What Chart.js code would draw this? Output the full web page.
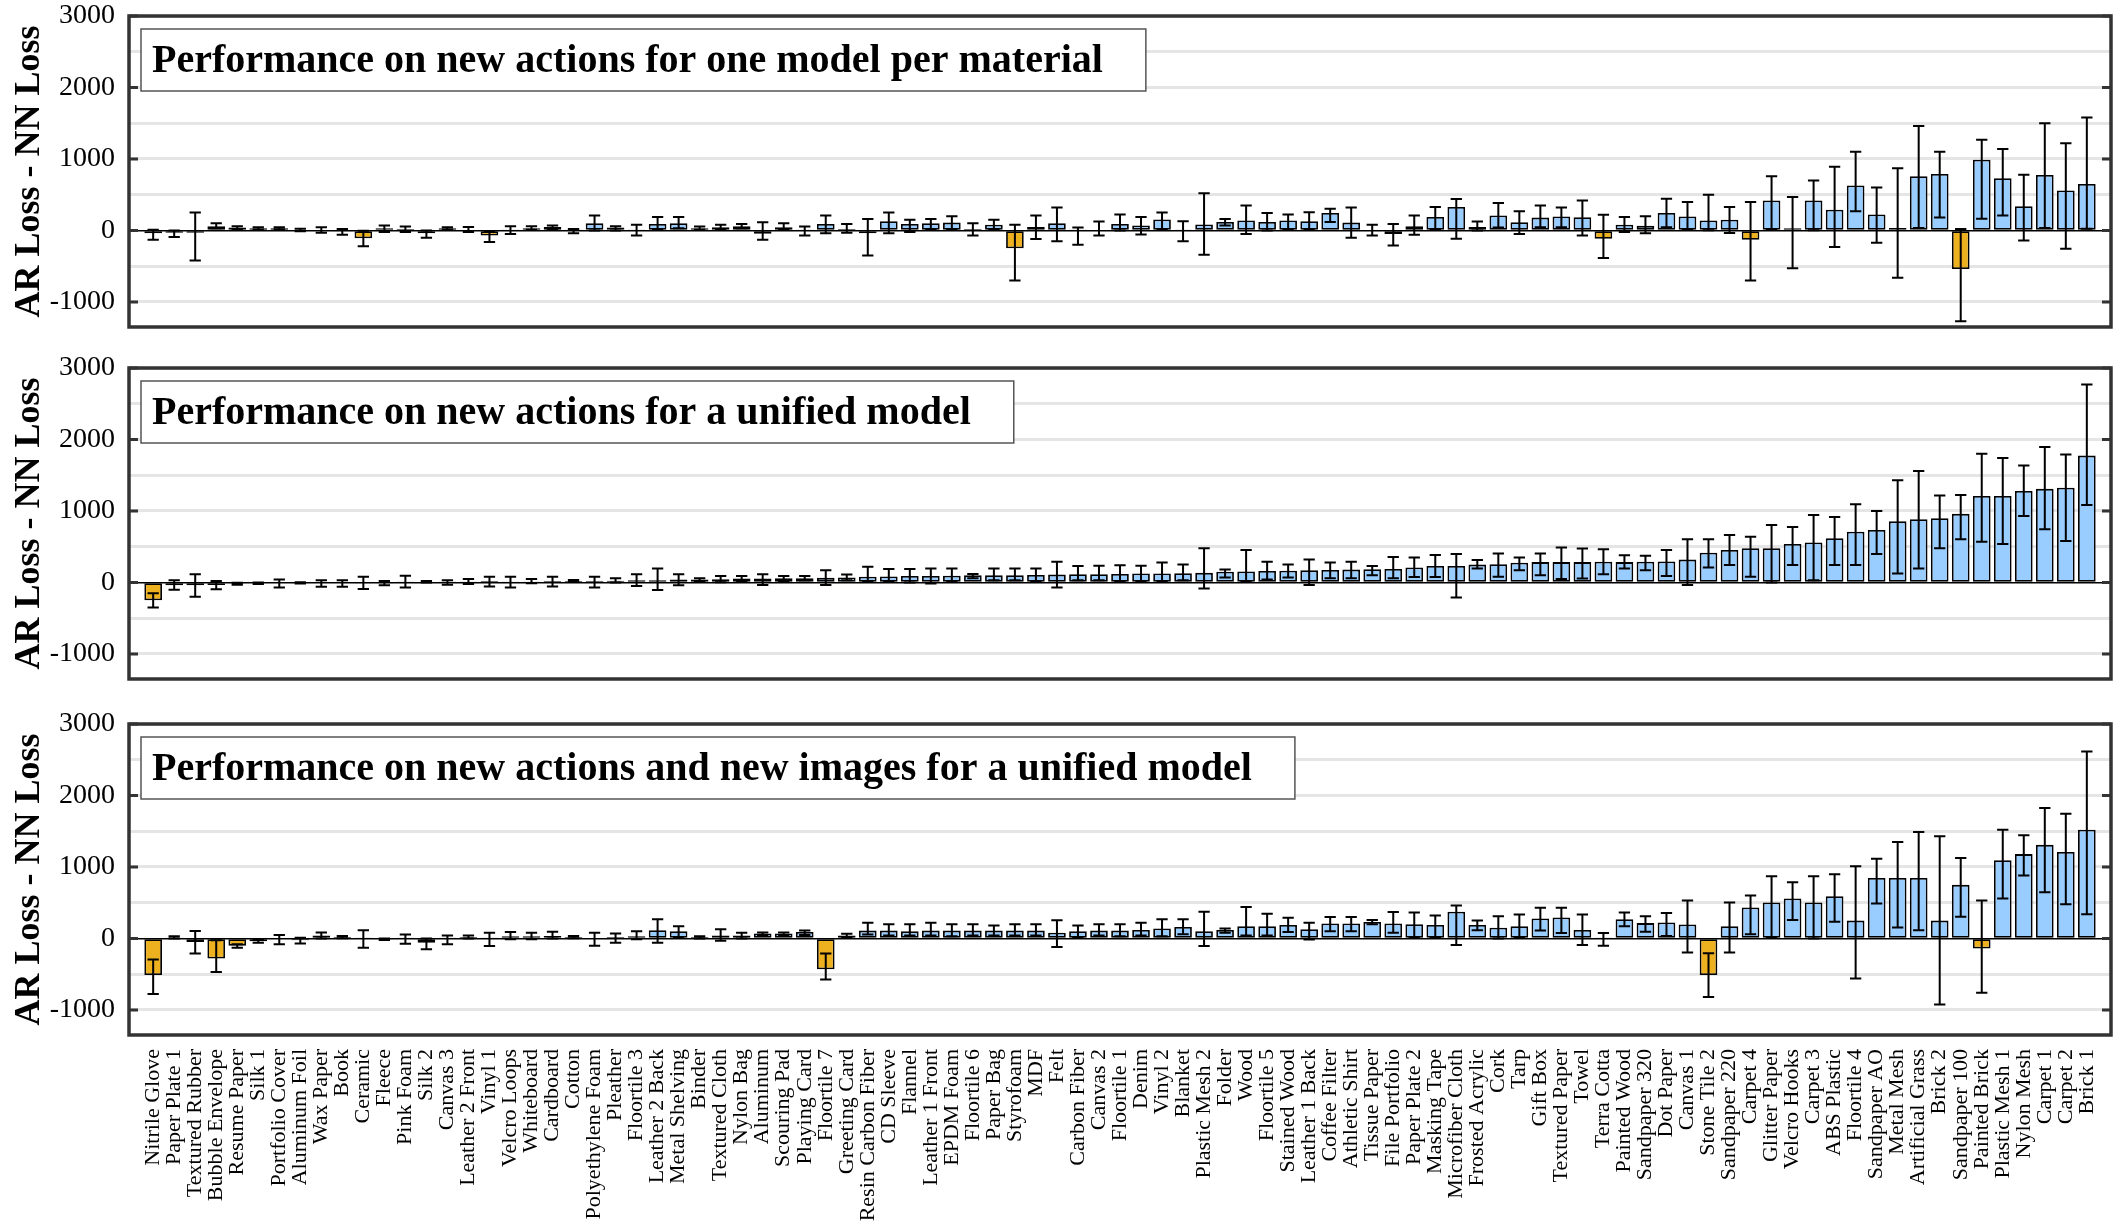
<!DOCTYPE html>
<html>
<head>
<meta charset="utf-8">
<script src="https://cdn.jsdelivr.net/npm/chart.js@4.4.0/dist/chart.umd.min.js"></script>
<style>
  body { margin: 0; background: #fff; }
  #wrap { position: relative; width: 2124px; height: 1230px; }
  .panel { position: absolute; left: 0; width: 2124px; }
</style>
</head>
<body>
<div id="wrap">
  <div class="panel" style="top:0px;height:330px"><canvas id="c1"></canvas></div>
  <div class="panel" style="top:340px;height:342px"><canvas id="c2"></canvas></div>
  <div class="panel" style="top:690px;height:540px"><canvas id="c3"></canvas></div>
</div>
<script>
var materials = ['Nitrile Glove', 'Paper Plate 1', 'Textured Rubber', 'Bubble Envelope', 'Resume Paper', 'Silk 1',
  'Portfolio Cover', 'Aluminum Foil', 'Wax Paper', 'Book', 'Ceramic', 'Fleece', 'Pink Foam', 'Silk 2', 'Canvas 3',
  'Leather 2 Front', 'Vinyl 1', 'Velcro Loops', 'Whiteboard', 'Cardboard', 'Cotton', 'Polyethylene Foam', 'Pleather',
  'Floortile 3', 'Leather 2 Back', 'Metal Shelving', 'Binder', 'Textured Cloth', 'Nylon Bag', 'Aluminum',
  'Scouring Pad', 'Playing Card', 'Floortile 7', 'Greeting Card', 'Resin Carbon Fiber', 'CD Sleeve', 'Flannel',
  'Leather 1 Front', 'EPDM Foam', 'Floortile 6', 'Paper Bag', 'Styrofoam', 'MDF', 'Felt', 'Carbon Fiber', 'Canvas 2',
  'Floortile 1', 'Denim', 'Vinyl 2', 'Blanket', 'Plastic Mesh 2', 'Folder', 'Wood', 'Floortile 5', 'Stained Wood',
  'Leather 1 Back', 'Coffee Filter', 'Athletic Shirt', 'Tissue Paper', 'File Portfolio', 'Paper Plate 2',
  'Masking Tape', 'Microfiber Cloth', 'Frosted Acrylic', 'Cork', 'Tarp', 'Gift Box', 'Textured Paper', 'Towel',
  'Terra Cotta', 'Painted Wood', 'Sandpaper 320', 'Dot Paper', 'Canvas 1', 'Stone Tile 2', 'Sandpaper 220',
  'Carpet 4', 'Glitter Paper', 'Velcro Hooks', 'Carpet 3', 'ABS Plastic', 'Floortile 4', 'Sandpaper AO',
  'Metal Mesh', 'Artificial Grass', 'Brick 2', 'Sandpaper 100', 'Painted Brick', 'Plastic Mesh 1', 'Nylon Mesh',
  'Carpet 1', 'Carpet 2', 'Brick 1'];

var yTicks = [-1000, 0, 1000, 2000, 3000];
var yGrid = [-1000, -500, 0, 500, 1000, 1500, 2000, 2500, 3000];

// panel 1: one model per material
var p1Mean = [-40, -30, -30, 60, 40, 30, 30, 10, 10, -15,
  -110, 30, 20, -40, 30, 10, -70, 5, 30, 50,
  5, 100, 40, 5, 90, 100, 30, 45, 60, -45,
  45, 5, 90, 20, -40, 130, 90, 100, 110, 20,
  80, -250, 50, 100, 5, 10, 90, 70, 155, 5,
  85, 120, 140, 120, 140, 130, 245, 110, 10, -50,
  60, 190, 330, 50, 210, 115, 180, 195, 185, -115,
  80, 65, 245, 195, 140, 150, -130, 420, 30, 420,
  290, 630, 225, 35, 760, 790, -540, 990, 730, 340,
  775, 560, 650];
var p1Low = [-130, -90, -420, 30, 20, 10, 15, -10, -30, -60,
  -220, -20, -20, -100, 10, -20, -160, -50, 10, 20,
  -40, 0, 0, -70, 20, 30, 10, 10, 30, -130,
  10, -70, -40, -30, -350, -40, -20, 10, 20, -70,
  10, -700, -120, -150, -200, -70, 0, -55, 10, -150,
  -340, 70, -50, 0, 10, 10, 120, -100, -70, -210,
  -60, 20, -115, 0, 40, -50, 45, 45, -70, -385,
  -20, -40, 45, 10, 5, -35, -700, 10, -530, 5,
  -230, 270, -170, -660, 35, 180, -1270, 165, 210, -140,
  35, -255, 25];
var p1High = [10, 0, 250, 100, 60, 45, 45, 25, 45, 20,
  -5, 70, 55, 0, 45, 50, -10, 60, 60, 70,
  20, 210, 60, 80, 190, 190, 55, 80, 90, 115,
  100, 55, 210, 90, 160, 250, 150, 160, 200, 100,
  150, 80, 210, 320, 40, 125, 225, 190, 250, 130,
  520, 160, 350, 245, 225, 255, 305, 320, 80, 90,
  210, 330, 440, 125, 385, 270, 350, 320, 420, 220,
  190, 200, 445, 400, 500, 330, 400, 760, 470, 700,
  890, 1100, 600, 870, 1460, 1100, 20, 1270, 1140, 780,
  1500, 1220, 1580];

// panel 2: unified model, new actions
var p2Mean = [-250, -40, -40, -35, -15, -10, -10, -5, -10, -10,
  -5, -5, 5, 10, 5, 15, 20, 15, 15, 20,
  20, 20, 25, 30, 30, 40, 40, 45, 55, 55,
  60, 60, 65, 70, 80, 85, 90, 90, 95, 100,
  100, 100, 105, 110, 115, 115, 120, 125, 125, 130,
  135, 150, 155, 160, 165, 170, 175, 180, 185, 190,
  210, 230, 230, 250, 255, 275, 285, 285, 285, 290,
  285, 290, 295, 320, 415, 455, 480, 480, 540, 560,
  620, 710, 735, 855, 885, 900, 960, 1210, 1210, 1280,
  1310, 1325, 1775];
var p2Low = [-350, -100, -200, -95, -30, -20, -70, -15, -60, -60,
  -90, -40, -70, 0, -30, -20, -55, -70, -10, -55,
  10, -70, 0, -50, -105, -40, 20, 5, 10, -35,
  20, 30, -35, 30, 10, 20, 0, -15, 20, 60,
  30, 30, 20, -70, 30, 30, 20, 20, 10, 30,
  -85, 70, 20, 40, 70, -35, 60, 60, 100, 60,
  75, 75, -210, 195, 80, 170, 100, 50, 55, 115,
  195, 170, 90, -35, 210, 245, 80, 0, 245, 30,
  245, 245, 400, 125, 195, 480, 605, 570, 540, 930,
  745, 580, 1085];
var p2High = [-150, 30, 115, 20, -5, 0, 40, 5, 30, 30,
  80, 20, 95, 20, 30, 50, 80, 80, 50, 80,
  35, 80, 60, 115, 195, 115, 60, 90, 90, 115,
  90, 90, 170, 110, 220, 190, 190, 195, 195, 120,
  195, 195, 195, 290, 230, 235, 240, 235, 280, 250,
  480, 180, 455, 290, 250, 320, 280, 290, 230, 355,
  350, 385, 400, 315, 405, 350, 405, 490, 475, 465,
  380, 375, 455, 605, 605, 665, 640, 805, 775, 945,
  915, 1095, 1000, 1430, 1560, 1215, 1225, 1800, 1740, 1635,
  1895, 1790, 2770];

// panel 3: unified model, new actions and new images
var p3Mean = [-510, 15, -50, -280, -100, -40, -10, -25, 40, 20,
  5, -10, 5, -60, 5, 20, 5, 30, 30, 35,
  20, 0, 20, 30, 115, 100, 20, 40, 40, 70,
  70, 90, -430, 40, 110, 110, 100, 110, 110, 110,
  110, 110, 110, 80, 100, 110, 110, 120, 140, 160,
  100, 120, 170, 170, 190, 130, 210, 210, 230, 210,
  200, 190, 375, 190, 150, 170, 280, 295, 120, 5,
  270, 215, 225, 195, -510, 170, 435, 505, 560, 505,
  590, 250, 845, 845, 845, 250, 750, -140, 1095, 1180,
  1310, 1210, 1520];
var p3Low = [-775, 0, -210, -470, -130, -60, -80, -70, 0, 5,
  -130, -20, -75, -150, -80, 0, -105, -10, -10, 0,
  5, -100, -60, -10, -60, 10, 0, -30, 0, 40,
  40, 50, -575, 20, 55, 40, 40, 40, 30, 40,
  40, 40, 40, -120, 20, 40, 30, 40, 30, 60,
  -105, 80, 40, 40, 90, -15, 100, 100, 200, 80,
  15, 15, -90, 115, 0, 15, 110, 75, -90, -100,
  170, 95, 35, -195, -820, -195, 60, 10, 260, 0,
  235, -560, 490, 155, 115, -925, 305, -760, 560, 880,
  645, 480, 340];
var p3High = [-295, 30, 105, -25, -80, -20, 50, 10, 85, 35,
  115, 0, 55, 0, 40, 40, 80, 90, 80, 95,
  35, 80, 70, 100, 270, 170, 30, 130, 80, 85,
  85, 110, -210, 65, 220, 200, 200, 220, 200, 200,
  180, 200, 200, 255, 180, 200, 200, 220, 270, 270,
  375, 140, 440, 345, 290, 220, 300, 300, 260, 370,
  365, 320, 460, 250, 310, 335, 430, 430, 335, 75,
  365, 310, 355, 530, -205, 505, 600, 870, 785, 870,
  900, 1010, 1115, 1350, 1490, 1430, 1125, 530, 1520, 1445,
  1825, 1745, 2615];

var titles = ['Performance on new actions for one model per material',
  'Performance on new actions for a unified model',
  'Performance on new actions and new images for a unified model'];

var BLUE = '#99CCFF';
var ORANGE = '#EDB120';
var SERIF = '"Liberation Serif", "Times New Roman", serif';

Chart.defaults.font.family = SERIF;
Chart.defaults.color = '#000';

// whiskers drawn from the y scale
var errorBars = {
    id: 'errorBars',
    afterDatasetsDraw: function (chart, args, opts) {
        var ctx = chart.ctx;
        var y = chart.scales.y;
        var meta = chart.getDatasetMeta(0);
        ctx.save();
        ctx.strokeStyle = '#000';
        ctx.lineWidth = 2;
        meta.data.forEach(function (bar, i) {
            var yl = y.getPixelForValue(opts.low[i]);
            var yh = y.getPixelForValue(opts.high[i]);
            var cap = bar.width * 0.32;
            ctx.beginPath();
            ctx.moveTo(bar.x, yl); ctx.lineTo(bar.x, yh);
            ctx.moveTo(bar.x - cap, yl); ctx.lineTo(bar.x + cap, yl);
            ctx.moveTo(bar.x - cap, yh); ctx.lineTo(bar.x + cap, yh);
            ctx.stroke();
        });
        ctx.restore();
    }
};

// frame, inner ticks and the title box
var panelFrame = {
    id: 'panelFrame',
    afterDraw: function (chart, args, opts) {
        var ctx = chart.ctx;
        var a = chart.chartArea;
        var y = chart.scales.y;
        ctx.save();

        ctx.font = 'bold 40px ' + SERIF;
        var tw = ctx.measureText(opts.title).width;
        var bx = a.left + 12, by = a.top + 13, bh = 62;
        ctx.fillStyle = '#fff';
        ctx.fillRect(bx, by, tw + 54, bh);
        ctx.strokeStyle = '#555';
        ctx.lineWidth = 1.5;
        ctx.strokeRect(bx, by, tw + 54, bh);
        ctx.fillStyle = '#000';
        ctx.textBaseline = 'middle';
        ctx.fillText(opts.title, bx + 11, by + bh / 2 + 2);

        ctx.strokeStyle = '#333';
        ctx.lineWidth = 3;
        yTicks.forEach(function (v) {
            var py = y.getPixelForValue(v);
            ctx.beginPath();
            ctx.moveTo(a.left, py); ctx.lineTo(a.left + 9, py);
            ctx.moveTo(a.right, py); ctx.lineTo(a.right - 9, py);
            ctx.stroke();
        });

        ctx.lineWidth = 3.5;
        ctx.strokeRect(a.left, a.top, a.right - a.left, a.bottom - a.top);
        ctx.restore();
    }
};

function makePanel(id, title, mean, low, high, showLabels, padTop, padBottom) {
    var ctx = document.getElementById(id).getContext('2d');
    return new Chart(ctx, {
        type: 'bar',
        data: {
            datasets: [{
                data: mean.map(function (v, i) { return { x: i, y: v }; }),
                backgroundColor: mean.map(function (v) { return v < 0 ? ORANGE : BLUE; }),
                borderColor: '#000',
                borderWidth: 1.8,
                borderSkipped: false,
                categoryPercentage: 1,
                barPercentage: 0.84
            }]
        },
        options: {
            responsive: true,
            maintainAspectRatio: false,
            animation: false,
            layout: {
                padding: { top: padTop, bottom: padBottom, left: 0, right: 13 }
            },
            plugins: {
                legend: { display: false },
                tooltip: { enabled: false },
                errorBars: { low: low, high: high },
                panelFrame: { title: title }
            },
            scales: {
                x: {
                    type: 'linear',
                    display: showLabels,
                    offset: false,
                    min: -1.15,
                    max: materials.length - 1 + 1.15,
                    grid: { display: false, offset: false },
                    border: { display: false },
                    ticks: {
                        stepSize: 1,
                        autoSkip: false,
                        maxTicksLimit: 200,
                        maxRotation: 90,
                        minRotation: 90,
                        padding: 6,
                        font: { size: 22 },
                        callback: function (v) {
                            return Number.isInteger(v) && materials[v] ? materials[v] : '';
                        }
                    },
                    afterFit: function (scale) {
                        scale.height = showLabels ? 195 : 0;
                        scale.paddingLeft = 0;
                        scale.paddingRight = 0;
                    }
                },
                y: {
                    min: -1350,
                    max: 3000,
                    z: 1,
                    border: { display: false },
                    afterBuildTicks: function (scale) {
                        scale.ticks = yGrid.map(function (v) { return { value: v }; });
                    },
                    grid: {
                        drawTicks: false,
                        color: function (c) {
                            return c.tick.value === 0 ? '#000' : 'rgba(0,0,0,0.1)';
                        },
                        lineWidth: function (c) {
                            return c.tick.value === 0 ? 1.5 : 3;
                        }
                    },
                    ticks: {
                        autoSkip: false,
                        padding: 14,
                        font: { size: 28 },
                        callback: function (v) {
                            return yTicks.indexOf(v) >= 0 ? v : '';
                        }
                    },
                    title: {
                        display: true,
                        text: 'AR Loss - NN Loss',
                        font: { size: 36, weight: 'bold' },
                        padding: { top: 8, bottom: 0 }
                    },
                    afterFit: function (scale) {
                        scale.width = 129;
                        scale.paddingTop = 0;
                        scale.paddingBottom = 0;
                    }
                }
            }
        },
        plugins: [errorBars, panelFrame]
    });
}

makePanel('c1', titles[0], p1Mean, p1Low, p1High, false, 16, 3);
makePanel('c2', titles[1], p2Mean, p2Low, p2High, false, 28, 3);
makePanel('c3', titles[2], p3Mean, p3Low, p3High, true, 34, 0);
</script>
</body>
</html>
